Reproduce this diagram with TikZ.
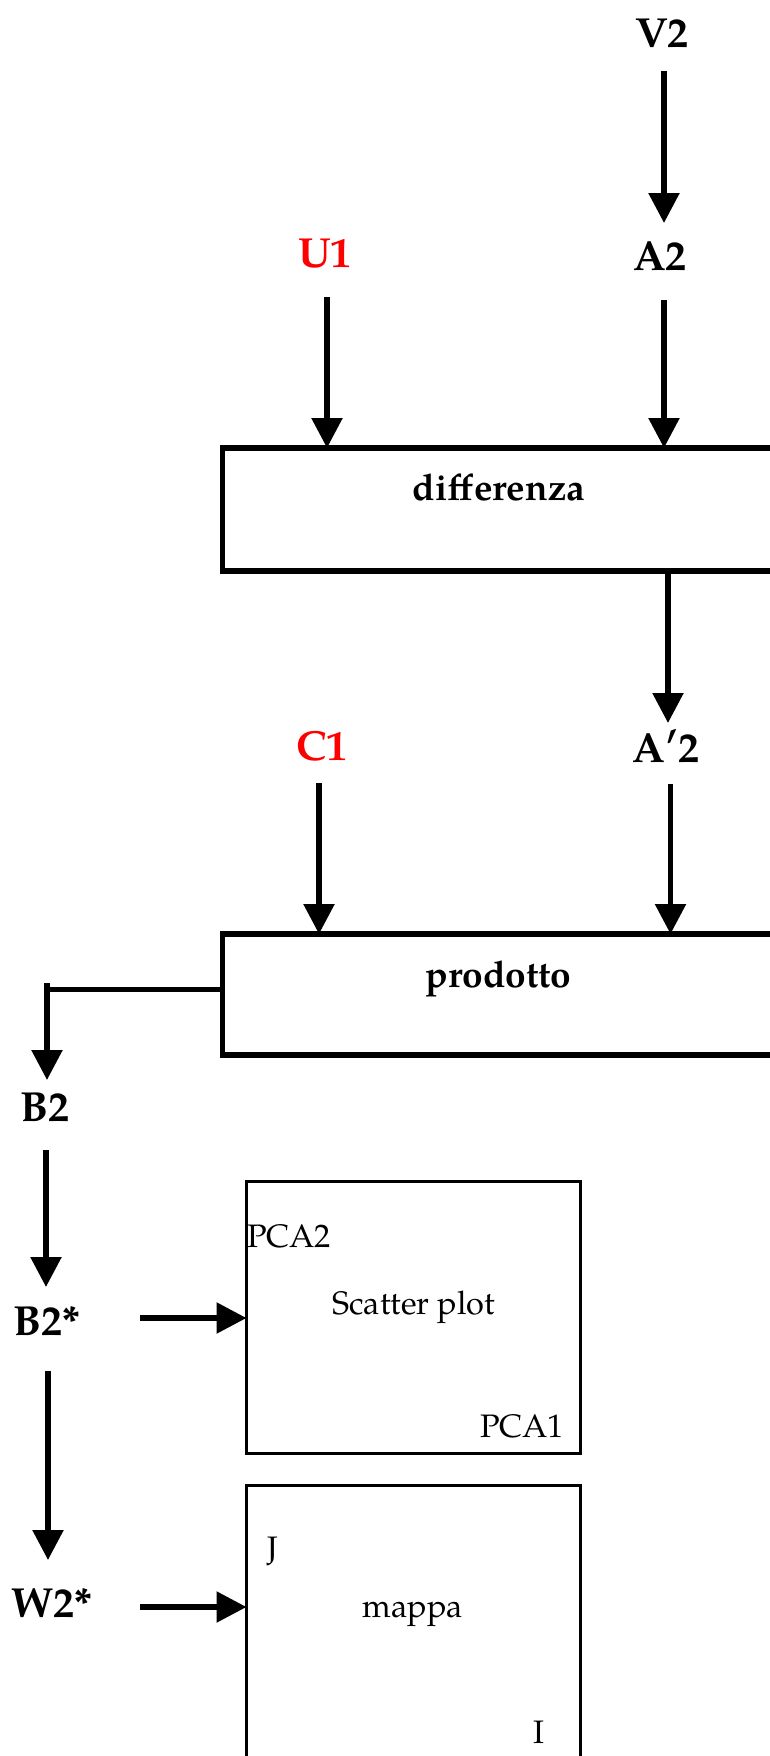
\documentclass[tikz,border=0pt]{standalone}
\usepackage{fontspec}
\setmainfont{TeX Gyre Pagella}
\usetikzlibrary{arrows.meta}
\tikzset{
  lbl/.style={font=\fontsize{42}{50}\selectfont\bfseries, inner sep=0pt, anchor=base},
  boxtxt/.style={font=\fontsize{37}{44}\selectfont\bfseries, inner sep=0pt, anchor=base},
  smalltxt/.style={font=\fontsize{32.5}{39}\selectfont, inner sep=0pt},
  bigbox/.style={draw, line width=5.5pt, inner sep=0pt, outer sep=0pt, anchor=north west},
  plotbox/.style={draw, line width=3.5pt, inner sep=0pt, outer sep=0pt, anchor=north west},
  arr/.style={line width=5.5pt, -{Triangle[length=30pt,width=30pt]}},
  ln/.style={line width=5pt},
}
\begin{document}
\begin{tikzpicture}[x=1pt,y=-1pt]
\useasboundingbox (0,0) rectangle (770,1756);
\clip (0,0) rectangle (770,1756);
% boxes
\node[bigbox, minimum width=700pt, minimum height=123pt] (diff) at (222.5,448) {};
\node[bigbox, minimum width=700pt, minimum height=121pt] (prod) at (222.5,934) {};
\node[plotbox, minimum width=334pt, minimum height=272pt] (scatter) at (246.5,1181.5) {};
\node[plotbox, minimum width=334pt, minimum height=400pt] (mappa) at (246.5,1485.5) {};
% box texts
\node[boxtxt] (difft) at (499,500) {differenza};
\node[boxtxt] (prodt) at (498.5,987) {prodotto};
\node[smalltxt, anchor=base] (sct) at (413.5,1314) {Scatter plot};
\node[smalltxt, anchor=base west] (pca2) at (247,1247) {PCA2};
\node[smalltxt, anchor=base east] (pca1) at (564,1437) {PCA1};
\node[smalltxt, anchor=base] (mapt) at (413,1617) {mappa};
\node[smalltxt, anchor=base west] (jt) at (267,1559) {J};
\node[smalltxt, anchor=base] (it) at (538.5,1743) {I};
% labels
\node[lbl] (V2) at (662,47) {V2};
\node[lbl] (A2) at (660,270) {A2};
\node[lbl, text=red] (U1) at (325,267) {U1};
\node[lbl] (A2p) at (666,762) {A′2};
\node[lbl, text=red] (C1) at (322,760) {C1};
\node[lbl] (B2) at (45,1121) {B2};
\node[lbl] (B2s) at (47,1335) {B2*};
\node[lbl] (W2s) at (52,1617) {W2*};
% connectors
\draw[arr] ([xshift=2pt,yshift=-24pt]V2.base) -- ([xshift=4pt]A2.base |- 0,223);
\draw[arr] ([xshift=4pt,yshift=-30pt]A2.base) -- ([xshift=4pt]A2.base |- diff.north);
\draw[arr] ([xshift=2pt,yshift=-30pt]U1.base) -- ([xshift=2pt]U1.base |- diff.north);
\draw[arr] ([xshift=2pt]A2p.base |- diff.south) -- ([xshift=2pt]A2p.base |- 0,723);
\draw[arr] ([xshift=-3pt,yshift=-23pt]C1.base) -- ([xshift=-3pt]C1.base |- prod.north);
\draw[arr] ([xshift=4.5pt,yshift=-22pt]A2p.base) -- ([xshift=4.5pt]A2p.base |- prod.north);
\coordinate (bend) at (47,989);
\draw[ln] (prod.west |- bend) -- ([xshift=-2.5pt]bend);
\draw[arr] ([yshift=6pt]bend) -- (bend |- 0,1080);
\draw[arr] ([xshift=1pt,yshift=-29pt]B2.base) -- ([xshift=1pt]B2.base |- 0,1287);
\draw[arr] ([xshift=1pt,yshift=-36pt]B2s.base) -- ([xshift=1pt]B2s.base |- 0,1560);
\draw[arr] (140,1318) -- (scatter.west |- 0,1318);
\draw[arr] (140,1607) -- (mappa.west |- 0,1607);
\end{tikzpicture}
\end{document}
